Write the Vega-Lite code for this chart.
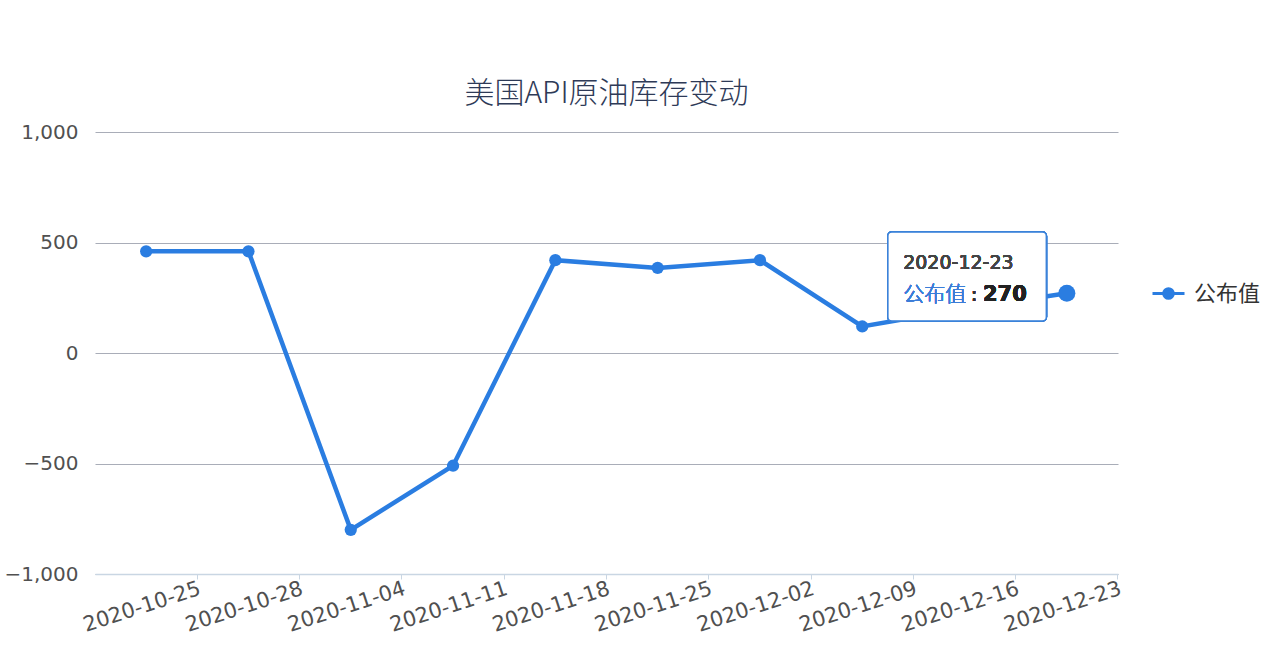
{
  "$schema": "https://vega.github.io/schema/vega-lite/v6.json",
  "autosize": {"type": "none"},
  "width": 1023,
  "height": 442,
  "padding": {"left": 95, "top": 132, "right": 162, "bottom": 80},
  "background": "#ffffff",
  "config": {"view": {"stroke": null}, "font": "DejaVu Sans"},
  "title": {"text": "美国API原油库存变动", "fontSize": 30, "font": "Noto Sans CJK SC", "fontWeight": 300, "color": "#2e3a57", "offset": 13, "anchor": "middle"},
  "data": {"values": [
    {"date": "2020-10-25", "value": 460},
    {"date": "2020-10-28", "value": 460},
    {"date": "2020-11-04", "value": -800},
    {"date": "2020-11-11", "value": -510},
    {"date": "2020-11-18", "value": 420},
    {"date": "2020-11-25", "value": 385},
    {"date": "2020-12-02", "value": 420},
    {"date": "2020-12-09", "value": 120},
    {"date": "2020-12-16", "value": 200},
    {"date": "2020-12-23", "value": 270}
  ]},
  "layer": [
    {
      "encoding": {
        "x": {"field": "date", "type": "ordinal", "sort": null,
          "scale": {"type": "band", "paddingInner": 0, "paddingOuter": 0},
          "axis": {"title": null, "bandPosition": 1, "labelAngle": -18, "labelAlign": "right", "labelBaseline": "middle", "labelPadding": 9, "labelOffset": 54, "labelFontSize": 21, "labelColor": "#505050", "labelFont": "DejaVu Sans", "domainColor": "#c9d6e3", "domainWidth": 1.5, "tickColor": "#c9d6e3", "tickSize": 5, "grid": false, "labelOverlap": false}},
        "y": {"field": "value", "type": "quantitative",
          "scale": {"domain": [-1000, 1000], "nice": false},
          "axis": {"title": null, "values": [-1000, -500, 0, 500, 1000], "format": ",d", "domain": false, "ticks": false, "labelPadding": 17, "labelFontSize": 20, "labelColor": "#505050", "labelFont": "DejaVu Sans", "gridColor": "#a9adb8", "gridWidth": 1}}
      },
      "layer": [
        {
          "mark": {"type": "line", "strokeWidth": 4.5},
          "encoding": {
            "color": {"datum": "公布值", "scale": {"range": ["#2a7de1"]},
              "legend": {"orient": "none", "legendX": 1056, "legendY": 144, "title": null, "labelFontSize": 22, "labelColor": "#333333", "labelFont": "Noto Sans CJK SC", "symbolType": "M-1,0L1,0M0.3,0A0.3,0.3,0,1,1,-0.3,0A0.3,0.3,0,1,1,0.3,0Z", "symbolSize": 1024, "symbolStrokeWidth": 3, "labelOffset": 8,
                "encode": {"symbols": {"update": {"fill": {"value": "#2a7de1"}, "stroke": {"value": "#2a7de1"}}}}}}
          }
        },
        {
          "transform": [{"filter": "datum.date != '2020-12-23'"}],
          "mark": {"type": "point", "filled": true, "size": 150, "color": "#2a7de1", "opacity": 1}
        },
        {
          "transform": [{"filter": "datum.date == '2020-12-23'"}],
          "mark": {"type": "point", "filled": true, "size": 290, "color": "#2a7de1", "opacity": 1}
        }
      ]
    },
    {
      "layer": [
        {
          "mark": {"type": "rect", "fill": "#ffffff", "fillOpacity": 0.78, "stroke": "#3b82d9", "strokeWidth": 1.5, "cornerRadius": 4},
          "encoding": {
            "x": {"datum": 7.75, "type": "quantitative", "scale": {"domain": [0, 10], "nice": false}, "axis": null},
            "x2": {"datum": 9.3},
            "y": {"datum": 547, "type": "quantitative", "scale": {"domain": [-1000, 1000], "nice": false}, "axis": null},
            "y2": {"datum": 145}
          }
        },
        {
          "mark": {"type": "text", "text": "2020-12-23", "align": "left", "baseline": "alphabetic", "fontSize": 19, "color": "#444444", "font": "DejaVu Sans"},
          "encoding": {
            "x": {"datum": 7.9, "type": "quantitative", "scale": {"domain": [0, 10], "nice": false}, "axis": null},
            "y": {"datum": 378, "type": "quantitative", "scale": {"domain": [-1000, 1000], "nice": false}, "axis": null}
          }
        },
        {
          "mark": {"type": "text", "text": "公布值", "align": "left", "baseline": "alphabetic", "fontSize": 21, "fontWeight": 300, "color": "#3b7dd8", "font": "Noto Sans CJK SC"},
          "encoding": {
            "x": {"datum": 7.9, "type": "quantitative", "scale": {"domain": [0, 10], "nice": false}, "axis": null},
            "y": {"datum": 235, "type": "quantitative", "scale": {"domain": [-1000, 1000], "nice": false}, "axis": null}
          }
        },
        {
          "mark": {"type": "text", "text": ":", "align": "left", "baseline": "alphabetic", "fontSize": 20, "color": "#333333", "font": "DejaVu Sans"},
          "encoding": {
            "x": {"datum": 8.56, "type": "quantitative", "scale": {"domain": [0, 10], "nice": false}, "axis": null},
            "y": {"datum": 235, "type": "quantitative", "scale": {"domain": [-1000, 1000], "nice": false}, "axis": null}
          }
        },
        {
          "mark": {"type": "text", "text": "270", "align": "left", "baseline": "alphabetic", "fontSize": 21, "fontWeight": "bold", "color": "#222222", "font": "DejaVu Sans"},
          "encoding": {
            "x": {"datum": 8.68, "type": "quantitative", "scale": {"domain": [0, 10], "nice": false}, "axis": null},
            "y": {"datum": 235, "type": "quantitative", "scale": {"domain": [-1000, 1000], "nice": false}, "axis": null}
          }
        }
      ]
    }
  ],
  "resolve": {"scale": {"x": "independent", "y": "independent"}, "axis": {"x": "independent", "y": "independent"}}
}
